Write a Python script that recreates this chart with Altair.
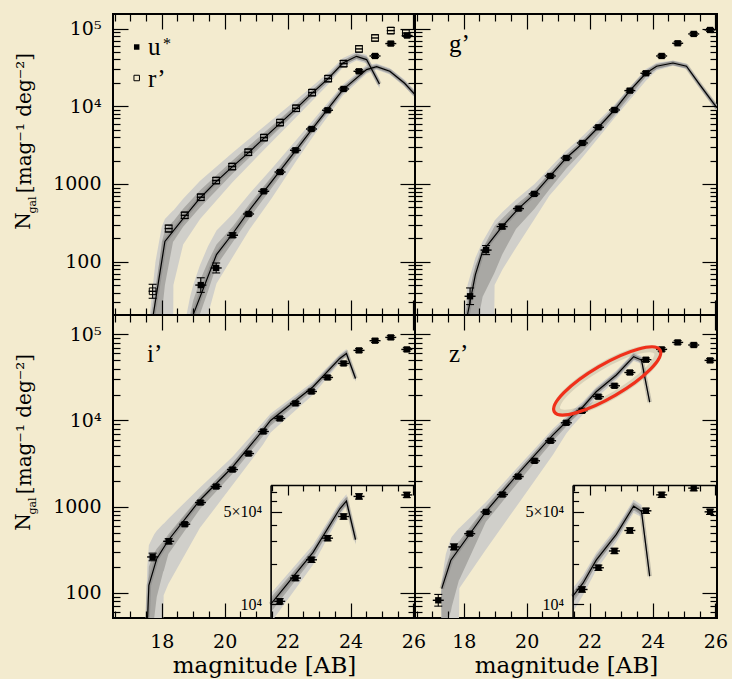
import altair as alt
import pandas as pd

# ---------------- values ----------------
# observed counts (magnitude bin centre, N_gal in mag^-1 deg^-2, error in dex)
U_MAG = [19.24, 19.73, 20.25, 20.76, 21.24, 21.76, 22.25, 22.76, 23.27, 23.78, 24.27, 24.78, 25.28, 25.80]
U_N = [50, 83, 219, 411, 805, 1426, 2716, 5100, 8890, 16700, 28200, 44400, 64100, 81300]
U_ERR = [0.094, 0.064, 0.03, 0.02, 0.02, 0.02, 0.02, 0.02, 0.02, 0.02, 0.02, 0.02, 0.02, 0.02]

R_MAG = [17.71, 18.22, 18.73, 19.24, 19.73, 20.24, 20.75, 21.25, 21.76, 22.27, 22.78, 23.29, 23.78, 24.27, 24.78, 25.28, 25.76]
R_N = [41.6, 267, 395, 675, 1107, 1676, 2560, 3955, 6170, 9420, 15000, 22700, 35400, 54700, 75700, 94200, 87800]
R_ERR = [0.09, 0.045, 0.04, 0.04, 0.04, 0.04, 0.04, 0.04, 0.04, 0.04, 0.04, 0.04, 0.04, 0.04, 0.04, 0.04, 0.04]

G_MAG = [18.20, 18.71, 19.22, 19.74, 20.24, 20.75, 21.26, 21.77, 22.28, 22.79, 23.28, 23.79, 24.29, 24.80, 25.31, 25.83]
G_N = [35.9, 141, 283, 482, 745, 1268, 2160, 3370, 5370, 8960, 15900, 26600, 44400, 64700, 85300, 95900]
G_ERR = [0.107, 0.058, 0.03, 0.02, 0.02, 0.02, 0.02, 0.02, 0.02, 0.02, 0.02, 0.02, 0.02, 0.02, 0.02, 0.02]

I_MAG = [17.71, 18.22, 18.73, 19.23, 19.73, 20.25, 20.76, 21.23, 21.75, 22.25, 22.76, 23.27, 23.78, 24.27, 24.78, 25.28, 25.79]
I_N = [260, 395, 624, 1114, 1710, 2690, 4130, 7450, 10550, 15800, 21700, 31600, 46000, 65200, 84500, 92300, 66900]
I_ERR = [0.044, 0.03, 0.02, 0.02, 0.02, 0.02, 0.02, 0.02, 0.02, 0.02, 0.02, 0.02, 0.02, 0.02, 0.02, 0.02, 0.02]

Z_MAG = [17.19, 17.69, 18.19, 18.71, 19.23, 19.73, 20.25, 20.76, 21.26, 21.76, 22.28, 22.79, 23.28, 23.79, 24.29, 24.80, 25.31, 25.83]
Z_N = [81.6, 340, 485, 867, 1380, 2230, 3400, 5810, 9400, 12960, 18900, 25300, 36100, 50800, 67000, 80700, 75300, 49900]
Z_ERR = [0.068, 0.035, 0.02, 0.02, 0.02, 0.02, 0.02, 0.02, 0.02, 0.02, 0.02, 0.02, 0.02, 0.02, 0.02, 0.02, 0.02, 0.02]

# model curves (log10 N)
UM_MAG = [18.90, 19.00, 19.74, 20.27, 20.80, 22.28, 22.81, 23.76, 24.51, 24.83, 25.25, 25.72, 26.05]
UM_LOG = [1.20, 1.319, 2.091, 2.369, 2.671, 3.443, 3.721, 4.215, 4.472, 4.511, 4.45, 4.296, 4.151]
RM_MAG = [17.68, 17.73, 18.10, 18.73, 19.22, 19.73, 20.24, 20.75, 21.25, 21.76, 22.27, 22.78, 23.29, 23.76, 24.19, 24.51, 24.92]
RM_LOG = [1.19, 1.319, 2.26, 2.58, 2.82, 3.03, 3.22, 3.40, 3.59, 3.78, 3.97, 4.17, 4.356, 4.557, 4.643, 4.601, 4.287]
GM_MAG = [18.08, 18.12, 18.37, 18.60, 19.23, 19.74, 20.25, 20.75, 21.26, 21.79, 22.28, 22.79, 23.28, 23.79, 24.13, 24.65, 25.08, 25.50, 25.93, 26.05]
GM_LOG = [1.20, 1.32, 1.834, 2.134, 2.456, 2.683, 2.872, 3.103, 3.335, 3.528, 3.73, 3.952, 4.202, 4.425, 4.515, 4.557, 4.515, 4.279, 4.043, 3.98]
IM_MAG = [17.54, 17.55, 17.59, 17.84, 18.21, 19.21, 20.25, 21.22, 21.46, 22.81, 23.66, 23.87, 24.16]
IM_LOG = [1.60, 1.706, 2.086, 2.395, 2.609, 3.074, 3.46, 3.888, 4.00, 4.392, 4.721, 4.779, 4.488]
ZM_MAG = [17.30, 17.59, 18.70, 19.77, 20.83, 21.26, 21.46, 21.79, 22.21, 22.85, 23.40, 23.65, 23.91]
ZM_LOG = [2.047, 2.377, 2.94, 3.40, 3.83, 3.985, 4.06, 4.16, 4.334, 4.528, 4.741, 4.702, 4.213]

# model uncertainty bands (log10 N): outer / inner envelopes
UB_MAG = [18.75, 18.79, 18.90, 19.00, 19.21, 19.47, 19.74, 20.27, 20.80, 21.50, 22.28, 22.81, 23.76, 24.51, 24.83, 25.25, 25.72, 26.05]
UB_HI_OUT = [1.0, 1.32, 1.55, 1.70, 1.95, 2.20, 2.40, 2.62, 2.88, 3.20, 3.57, 3.82, 4.28, 4.53, 4.55, 4.49, 4.34, 4.20]
UB_HI_IN = [0.8, 1.0, 1.32, 1.50, 1.75, 2.00, 2.22, 2.46, 2.75, 3.10, 3.50, 3.77, 4.25, 4.50, 4.53, 4.47, 4.32, 4.18]
UB_LO_IN = [0.5, 0.6, 0.8, 1.0, 1.32, 1.62, 1.95, 2.26, 2.57, 2.95, 3.38, 3.68, 4.18, 4.44, 4.49, 4.43, 4.27, 4.13]
UB_LO_OUT = [0.4, 0.5, 0.6, 0.8, 1.0, 1.32, 1.72, 2.07, 2.42, 2.82, 3.30, 3.61, 4.14, 4.42, 4.47, 4.41, 4.25, 4.11]

RB_MAG = [17.58, 17.62, 17.80, 18.00, 18.10, 18.36, 18.37, 18.68, 19.22, 20.24, 21.25, 22.27, 23.29, 23.76, 24.19, 24.51, 24.92]
RB_HI_OUT = [1.0, 1.32, 2.00, 2.45, 2.55, 2.66, 2.66, 2.81, 3.04, 3.40, 3.74, 4.08, 4.43, 4.62, 4.70, 4.66, 4.34]
RB_HI_IN = [0.7, 0.9, 1.60, 2.25, 2.40, 2.52, 2.52, 2.68, 2.92, 3.30, 3.66, 4.02, 4.39, 4.59, 4.68, 4.64, 4.32]
RB_LO_IN = [0.5, 0.6, 0.90, 1.32, 1.70, 2.26, 2.26, 2.45, 2.70, 3.13, 3.52, 3.92, 4.32, 4.53, 4.61, 4.57, 4.25]
RB_LO_OUT = [0.3, 0.4, 0.50, 0.60, 0.70, 0.90, 1.70, 2.22, 2.55, 3.02, 3.44, 3.86, 4.28, 4.50, 4.59, 4.55, 4.23]

GB_MAG = [17.95, 18.01, 18.12, 18.37, 18.49, 18.60, 18.97, 18.98, 19.23, 19.66, 20.25, 20.72, 21.26, 21.79, 22.79, 23.79, 24.13, 24.65, 25.08, 25.50, 25.93, 26.05]
GB_HI_OUT = [1.0, 1.32, 1.70, 2.05, 2.16, 2.26, 2.52, 2.53, 2.64, 2.80, 3.00, 3.20, 3.43, 3.62, 4.02, 4.48, 4.56, 4.59, 4.55, 4.31, 4.08, 4.02]
GB_HI_IN = [0.9, 1.1, 1.50, 1.95, 2.06, 2.17, 2.45, 2.46, 2.56, 2.73, 2.93, 3.14, 3.38, 3.57, 3.99, 4.46, 4.54, 4.58, 4.53, 4.30, 4.07, 4.01]
GB_LO_IN = [0.5, 0.6, 0.80, 1.10, 1.32, 1.55, 1.85, 1.86, 2.10, 2.42, 2.68, 2.93, 3.20, 3.42, 3.88, 4.38, 4.48, 4.53, 4.49, 4.25, 4.01, 3.95]
GB_LO_OUT = [0.4, 0.5, 0.60, 0.80, 0.90, 1.00, 1.32, 1.70, 1.90, 2.18, 2.55, 2.85, 3.10, 3.35, 3.85, 4.33, 4.46, 4.52, 4.48, 4.24, 4.00, 3.94]

IB_MAG = [17.45, 17.49, 17.54, 17.59, 17.76, 17.84, 18.05, 18.06, 18.21, 19.21, 20.25, 21.22, 21.46, 22.81, 23.66, 23.87, 24.16]
IB_HI_OUT = [1.5, 1.706, 2.30, 2.55, 2.68, 2.72, 2.80, 2.80, 2.86, 3.22, 3.58, 3.98, 4.08, 4.45, 4.77, 4.83, 4.54]
IB_HI_IN = [1.4, 1.55, 1.90, 2.30, 2.46, 2.51, 2.60, 2.60, 2.68, 3.12, 3.51, 3.93, 4.05, 4.42, 4.75, 4.81, 4.52]
IB_LO_IN = [1.2, 1.30, 1.45, 1.55, 1.706, 1.95, 2.25, 2.25, 2.45, 2.97, 3.38, 3.82, 3.94, 4.35, 4.69, 4.75, 4.46]
IB_LO_OUT = [1.0, 1.10, 1.20, 1.30, 1.40, 1.45, 1.706, 1.97, 2.10, 2.75, 3.25, 3.72, 3.86, 4.30, 4.67, 4.74, 4.45]

ZB_MAG = [17.28, 17.30, 17.43, 17.59, 17.62, 17.85, 17.86, 18.70, 19.77, 20.83, 21.26, 21.46, 21.79, 22.21, 22.85, 23.40, 23.65, 23.91]
ZB_HI_OUT = [2.00, 2.15, 2.45, 2.63, 2.65, 2.75, 2.75, 3.05, 3.48, 3.90, 4.05, 4.12, 4.22, 4.39, 4.58, 4.79, 4.75, 4.26]
ZB_HI_IN = [1.98, 2.10, 2.30, 2.48, 2.50, 2.60, 2.60, 3.00, 3.44, 3.87, 4.02, 4.09, 4.19, 4.37, 4.56, 4.77, 4.73, 4.24]
ZB_LO_IN = [1.95, 1.60, 1.65, 1.78, 1.84, 2.15, 2.15, 2.82, 3.30, 3.76, 3.93, 4.01, 4.12, 4.30, 4.50, 4.71, 4.67, 4.19]
ZB_LO_OUT = [1.93, 1.50, 1.55, 1.60, 1.62, 1.706, 2.05, 2.50, 3.05, 3.60, 3.85, 3.94, 4.07, 4.26, 4.47, 4.69, 4.66, 4.18]

# highlighted region in the z' panel
ELL_MAG = [22.56]
ELL_N = [28800]

# axes
X_DOMAIN = [16.45, 26.05]
Y_DOMAIN_TOP = [20.6, 154000]
Y_DOMAIN_BOT = [50.8, 168000]
X_MAJOR = [18, 20, 22, 24, 26]
X_MINOR = [16.5, 17, 17.5, 18.5, 19, 19.5, 20.5, 21, 21.5, 22.5, 23, 23.5, 24.5, 25, 25.5]
Y_MAJOR = [100, 1000, 10000, 100000]
Y_MINOR_TOP = [30, 40, 50, 60, 70, 80, 90, 200, 300, 400, 500, 600, 700, 800, 900,
               2000, 3000, 4000, 5000, 6000, 7000, 8000, 9000,
               20000, 30000, 40000, 50000, 60000, 70000, 80000, 90000]
Y_MINOR_BOT = [60, 70, 80, 90, 200, 300, 400, 500, 600, 700, 800, 900,
               2000, 3000, 4000, 5000, 6000, 7000, 8000, 9000,
               20000, 30000, 40000, 50000, 60000, 70000, 80000, 90000]
INSET_X_DOMAIN = [21.46, 26.05]
INSET_Y_DOMAIN = [7900, 79500]
INSET_X_MAJOR = [22, 24, 26]
INSET_X_MINOR = [21.5, 22.5, 23, 23.5, 24.5, 25, 25.5]
INSET_Y_MAJOR = [10000, 50000]
INSET_Y_MINOR = [20000, 30000, 40000, 60000, 70000]

# ---------------- style ----------------
BG = "#f3ebcf"
LIGHT = "#d0cfca"
DARK = "#a9a8a4"
SERIF = "DejaVu Serif"
TIMES = "Liberation Serif"
W = 302
H_TOP = 301
H_BOT = 303
INSET_LEFT = W * (INSET_X_DOMAIN[0] - X_DOMAIN[0]) / (X_DOMAIN[1] - X_DOMAIN[0])
INSET_TOP = 170


def points(mag, n, err):
    return pd.DataFrame({"m": mag, "N": n, "err": err,
                         "lo": [v / 10 ** e for v, e in zip(n, err)],
                         "hi": [v * 10 ** e for v, e in zip(n, err)]})


def model(mag, logn):
    return pd.DataFrame({"m": mag, "N": [10 ** v for v in logn]})


def band(mag, hi_out, hi_in, lo_in, lo_out):
    return pd.DataFrame({"m": mag,
                         "hi_out": [10 ** v for v in hi_out], "hi_in": [10 ** v for v in hi_in],
                         "lo_in": [10 ** v for v in lo_in], "lo_out": [10 ** v for v in lo_out]})


U_PTS, R_PTS, G_PTS = points(U_MAG, U_N, U_ERR), points(R_MAG, R_N, R_ERR), points(G_MAG, G_N, G_ERR)
I_PTS, Z_PTS = points(I_MAG, I_N, I_ERR), points(Z_MAG, Z_N, Z_ERR)
U_MOD, R_MOD, G_MOD = model(UM_MAG, UM_LOG), model(RM_MAG, RM_LOG), model(GM_MAG, GM_LOG)
I_MOD, Z_MOD = model(IM_MAG, IM_LOG), model(ZM_MAG, ZM_LOG)
U_BAND = band(UB_MAG, UB_HI_OUT, UB_HI_IN, UB_LO_IN, UB_LO_OUT)
R_BAND = band(RB_MAG, RB_HI_OUT, RB_HI_IN, RB_LO_IN, RB_LO_OUT)
G_BAND = band(GB_MAG, GB_HI_OUT, GB_HI_IN, GB_LO_IN, GB_LO_OUT)
I_BAND = band(IB_MAG, IB_HI_OUT, IB_HI_IN, IB_LO_IN, IB_LO_OUT)
Z_BAND = band(ZB_MAG, ZB_HI_OUT, ZB_HI_IN, ZB_LO_IN, ZB_LO_OUT)
ELLIPSE = pd.DataFrame({"m": ELL_MAG, "N": ELL_N})
DUMMY = pd.DataFrame({"m": [20.0], "N": [1000.0]})
DUMMY_INSET = pd.DataFrame({"m": [24.0], "N": [20000.0]})

ELLIPSE_PATH = ("M -1 0 C -1 -0.149 -0.5523 -0.27 0 -0.27 C 0.5523 -0.27 1 -0.149 1 0 "
                "C 1 0.149 0.5523 0.27 0 0.27 C -0.5523 0.27 -1 0.149 -1 0 Z")


def X(xs, field="m:Q"):
    return alt.X(field, scale=xs, axis=None)


def Y(ys, field="N:Q"):
    return alt.Y(field, scale=ys, axis=None)


def series_layers(bands, models, series, xs, ys):
    L = []
    for b in bands:
        L.append(alt.Chart(b).mark_area(color=LIGHT, clip=True).encode(
            x=X(xs), y=Y(ys, "lo_out:Q"), y2="hi_out:Q"))
    for b in bands:
        L.append(alt.Chart(b).mark_area(color=DARK, clip=True).encode(
            x=X(xs), y=Y(ys, "lo_in:Q"), y2="hi_in:Q"))
    for md in models:
        L.append(alt.Chart(md).mark_line(color="#6f6f6f", strokeWidth=4.5, opacity=0.35, clip=True).encode(
            x=X(xs), y=Y(ys)))
    for md in models:
        L.append(alt.Chart(md).mark_line(color="black", strokeWidth=1.2, clip=True).encode(
            x=X(xs), y=Y(ys)))
    for p, filled in series:
        L.append(alt.Chart(p[p.err > 0.05]).mark_rule(color="black", strokeWidth=1.1, clip=True).encode(
            x=X(xs), y=Y(ys, "lo:Q"), y2="hi:Q"))
        for f in ("lo:Q", "hi:Q"):
            L.append(alt.Chart(p).mark_tick(orient="horizontal", size=8, thickness=1.1,
                                            color="black", opacity=1, clip=True).encode(
                x=X(xs), y=Y(ys, f)))
        L.append(alt.Chart(p).mark_tick(orient="horizontal", size=11 if filled else 8, thickness=1.4,
                                        color="black", opacity=1, clip=True).encode(x=X(xs), y=Y(ys)))
        if filled:
            L.append(alt.Chart(p).mark_square(size=40, color="black", opacity=1, clip=True).encode(
                x=X(xs), y=Y(ys)))
        else:
            L.append(alt.Chart(p).mark_square(size=45, filled=False, color="black", strokeWidth=1,
                                              opacity=1, clip=True).encode(x=X(xs), y=Y(ys)))
    return L


def txt(s, x, y, size, font, angle=0, align="left", baseline="alphabetic"):
    return alt.Chart(DUMMY).mark_text(text=s, font=font, fontSize=size, angle=angle, align=align,
                                      baseline=baseline, color="black").encode(
        x=alt.value(x), y=alt.value(y))


def tick_axis(orient, offset, values, size, domain=False):
    return alt.Axis(orient=orient, offset=offset, values=values, tickSize=size, ticks=True,
                    tickColor="black", tickWidth=1.2, labels=False, domain=domain,
                    domainColor="black", domainWidth=1.6, grid=False, title=None, zindex=1)


def axis_layers(xs, ys, H, yminor, xlabels, ylabels):
    def ch(xa, ya):
        return alt.Chart(DUMMY).mark_point(opacity=0).encode(
            x=alt.X("m:Q", scale=xs, axis=xa), y=alt.Y("N:Q", scale=ys, axis=ya))
    L = [
        ch(tick_axis("top", -H, X_MAJOR, 15), tick_axis("right", -W, Y_MAJOR, 15)),
        ch(tick_axis("bottom", -H, X_MAJOR, 15), tick_axis("left", -W, Y_MAJOR, 15)),
        ch(tick_axis("top", -H, X_MINOR, 7), tick_axis("right", -W, yminor, 7)),
        ch(tick_axis("bottom", -H, X_MINOR, 7), tick_axis("left", -W, yminor, 7)),
    ]
    xa = None
    ya = None
    if xlabels:
        xa = alt.Axis(orient="bottom", values=X_MAJOR, labels=True, ticks=False, domain=False, grid=False,
                      labelFont=SERIF, labelFontSize=19, labelColor="black", labelPadding=14,
                      labelOverlap=False, labelFlush=False, format="d",
                      title="magnitude [AB]", titleFont=SERIF, titleFontSize=23, titleFontWeight="normal",
                      titleColor="black", titlePadding=3)
    if ylabels:
        ya = alt.Axis(orient="left", values=Y_MAJOR, labels=True, ticks=False, domain=False, grid=False,
                      labelFont=SERIF, labelFontSize=19, labelColor="black", labelPadding=12,
                      labelOverlap=False, title=None,
                      labelExpr="datum.value > 50000 ? '10⁵' : datum.value > 5000 ? '10⁴' : "
                                "datum.value > 500 ? '1000' : '100'")
    L.append(ch(xa, ya))
    return L


def ytitle():
    return [
        txt("[mag⁻¹ deg⁻²]", -88, 109, 20, SERIF, angle=270, align="center", baseline="middle"),
        txt("N", -89, 207, 20, SERIF, angle=270, align="center", baseline="middle"),
        txt("gal", -80, 191, 11, SERIF, angle=270, align="center", baseline="middle"),
    ]


def inset_layer(bands, models, series, H):
    xs = alt.Scale(domain=INSET_X_DOMAIN, range=[INSET_LEFT, W], nice=False, zero=False)
    ys = alt.Scale(type="log", domain=INSET_Y_DOMAIN, range=[H, INSET_TOP], nice=False)
    lo, hi = INSET_X_DOMAIN[0] - 1e-6, INSET_Y_DOMAIN[1]
    bands = [b[b.m >= lo] for b in bands]
    models = [m[m.m >= lo] for m in models]
    series = [(p[(p.m >= lo) & (p.N <= hi)], f) for p, f in series]
    L = series_layers(bands, models, series, xs, ys)

    def ch(xa, ya):
        return alt.Chart(DUMMY_INSET).mark_point(opacity=0).encode(
            x=alt.X("m:Q", scale=xs, axis=xa), y=alt.Y("N:Q", scale=ys, axis=ya))
    L += [
        ch(tick_axis("bottom", -(H - INSET_TOP), INSET_X_MAJOR, 10, domain=True),
           tick_axis("right", -(W - INSET_LEFT), INSET_Y_MAJOR, 11, domain=True)),
        ch(tick_axis("bottom", -(H - INSET_TOP), INSET_X_MINOR, 6),
           tick_axis("right", -(W - INSET_LEFT), INSET_Y_MINOR, 6)),
        ch(None, alt.Axis(orient="left", offset=-INSET_LEFT, values=INSET_Y_MAJOR, labels=True,
                          ticks=False, domain=False, grid=False, labelFont=TIMES, labelFontSize=16,
                          labelColor="black", labelPadding=9, labelOverlap=False, title=None,
                          labelExpr="datum.value > 20000 ? '5×10⁴' : '10⁴'")),
    ]
    return alt.layer(*L).resolve_axis(x="independent", y="independent")


def panel(H, ydom, yminor, bands, models, series, texts, xlabels, ylabels, inset=False, extra=None):
    xs = alt.Scale(domain=X_DOMAIN, nice=False, zero=False)
    ys = alt.Scale(type="log", domain=ydom, nice=False)
    L = series_layers(bands, models, series, xs, ys)
    if extra:
        L += extra(xs, ys)
    L += texts
    L += axis_layers(xs, ys, H, yminor, xlabels, ylabels)
    main = alt.layer(*L).resolve_axis(x="independent", y="independent")
    if inset:
        ins = inset_layer(bands, models, series, H)
        return alt.layer(main, ins).resolve_scale(x="independent", y="independent").properties(
            width=W, height=H)
    return main.properties(width=W, height=H)


def ellipse_layers(xs, ys):
    return [
        alt.Chart(ELLIPSE).mark_point(shape=ELLIPSE_PATH, size=13500, angle=329.7, filled=False,
                                      color="#000000", strokeWidth=7, opacity=0.10).encode(
            x=X(xs), y=Y(ys)),
        alt.Chart(ELLIPSE).mark_point(shape=ELLIPSE_PATH, size=15000, angle=329.7, filled=False,
                                      color="#f0301a", strokeWidth=3.2, opacity=1).encode(
            x=X(xs), y=Y(ys)),
    ]


legend = [
    alt.Chart(DUMMY).mark_square(size=30, color="black", opacity=1).encode(x=alt.value(23.7), y=alt.value(33)),
    alt.Chart(DUMMY).mark_square(size=30, filled=False, color="black", strokeWidth=1, opacity=1).encode(
        x=alt.value(23.7), y=alt.value(64)),
    txt("u", 35, 40.5, 25, TIMES),
    txt("*", 50, 35, 16, TIMES),
    txt("r’", 35, 72.5, 25, TIMES),
]

tl = panel(H_TOP, Y_DOMAIN_TOP, Y_MINOR_TOP, [U_BAND, R_BAND], [U_MOD, R_MOD],
           [(U_PTS, True), (R_PTS, False)], legend + ytitle(), False, True)
tr = panel(H_TOP, Y_DOMAIN_TOP, Y_MINOR_TOP, [G_BAND], [G_MOD], [(G_PTS, True)],
           [txt("g’", 34, 37.5, 25, TIMES)], False, False)
bl = panel(H_BOT, Y_DOMAIN_BOT, Y_MINOR_BOT, [I_BAND], [I_MOD], [(I_PTS, True)],
           [txt("i’", 34, 46.7, 25, TIMES)] + ytitle(), True, True, inset=True)
br = panel(H_BOT, Y_DOMAIN_BOT, Y_MINOR_BOT, [Z_BAND], [Z_MOD], [(Z_PTS, True)],
           [txt("z’", 34, 46.7, 25, TIMES)], True, False, inset=True, extra=ellipse_layers)

chart = alt.concat(tl, tr, bl, br, columns=2, spacing=0, bounds="flush").properties(
    background=BG,
    padding={"left": 13, "top": 12, "right": 3, "bottom": 4},
).configure_view(stroke="black", strokeWidth=2)

chart.save("out.html", embed_options={"renderer": "svg", "actions": False})
